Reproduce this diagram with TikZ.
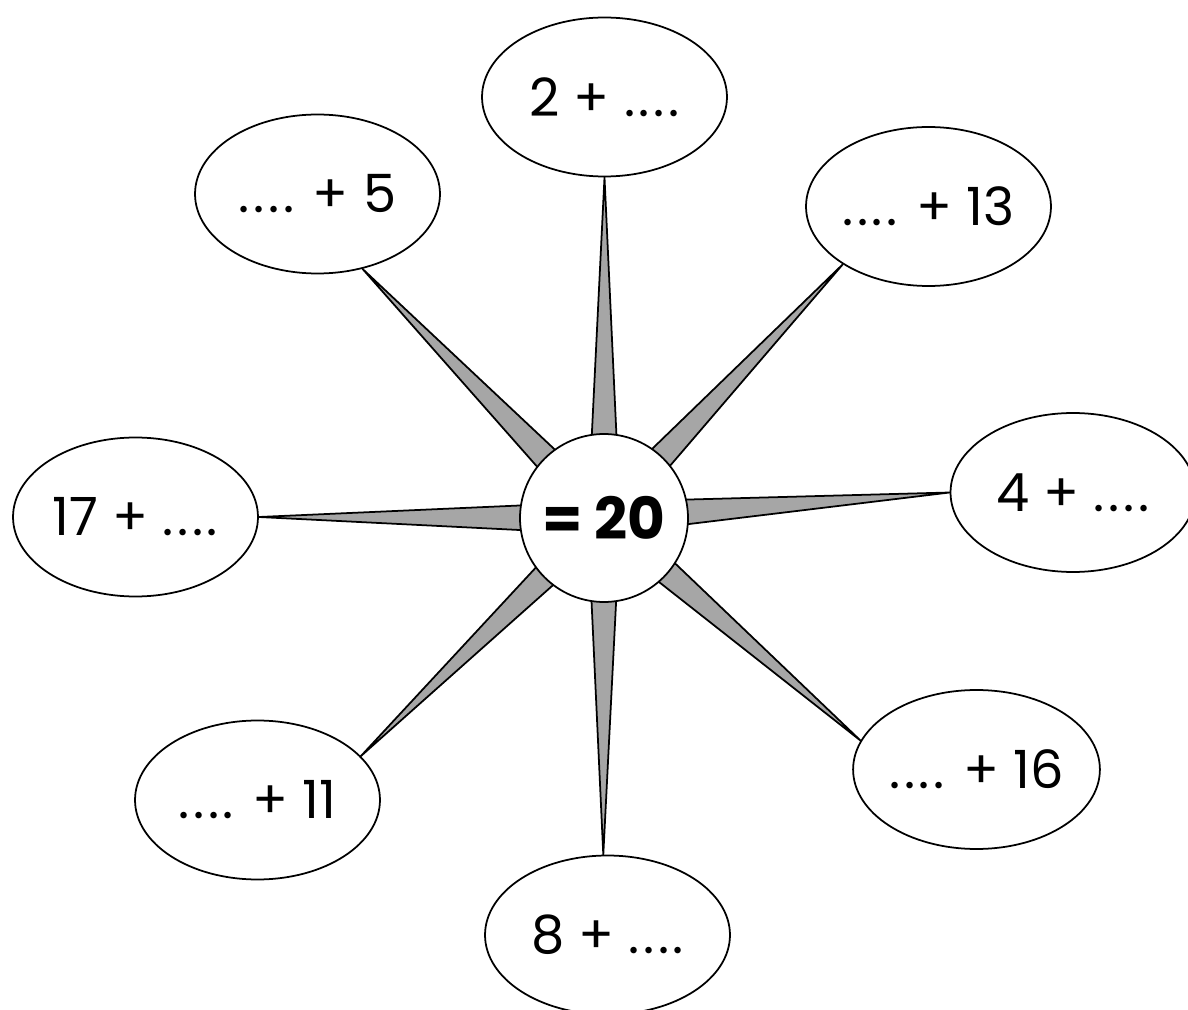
\documentclass[tikz,border=0pt]{standalone}
\usepackage{fontspec}
\setmainfont{Poppins}
\usetikzlibrary{shapes.geometric,calc,backgrounds}
\definecolor{spikegray}{HTML}{A6A6A6}
\newcommand\gap{.\kern0.07em.\kern0.07em.\kern0.07em.}
\begin{document}
\begin{tikzpicture}[x=0.02cm,y=-0.02cm,line width=1pt,
  bubble/.style={draw,ellipse,fill=white,minimum width=4.9cm,minimum height=3.18cm,
    inner sep=0pt,font=\fontsize{30}{36}\selectfont},
  hub/.style={draw,circle,fill=white,minimum size=3.36cm,inner sep=0pt,
    font=\fontsize{33}{40}\selectfont\bfseries},
  spike/.style={draw=black,line width=1pt,fill=spikegray,line join=round}]
  \useasboundingbox (0,0) rectangle (1188,1010);
  \clip (0,0) rectangle (1188,1010);
  \node[hub] (hub) at (604,518) {= 20};
  \node[bubble] (top) at (604.5,97) {2 + \gap};
  \node[bubble] (topleft) at (317.5,194) {\gap{} + 5};
  \node[bubble] (topright) at (928.5,206.5) {\gap{} + 13};
  \node[bubble] (right) at (1073,492.5) {4 + \gap};
  \node[bubble] (left) at (135.5,517) {17 + \gap};
  \node[bubble] (botright) at (976.5,769.5) {\gap{} + 16};
  \node[bubble] (botleft) at (257.5,800) {\gap{} + 11};
  \node[bubble] (bottom) at (607.5,935) {8 + \gap};
  \begin{scope}[on background layer]
    \foreach \b/\a in {top/-90,topleft/-59,topright/-146,right/180,
                       left/0,botright/166,botleft/23,bottom/93}
      \draw[spike] (\b.\a) -- ($(hub.center)!1.6cm!9:(\b.\a)$)
        -- ($(hub.center)!1.6cm!-9:(\b.\a)$) -- cycle;
  \end{scope}
\end{tikzpicture}
\end{document}
